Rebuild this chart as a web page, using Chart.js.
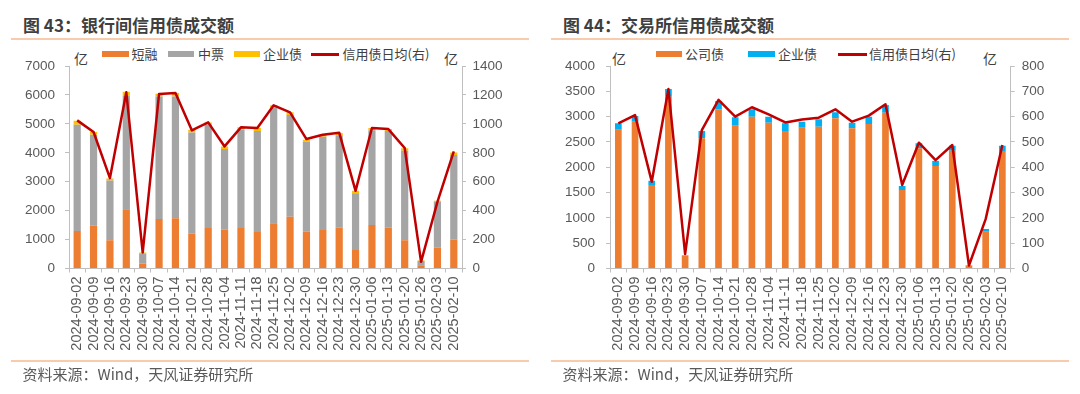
<!DOCTYPE html>
<html lang="zh-CN">
<head>
<meta charset="utf-8">
<title>信用债成交额</title>
<script src="https://cdn.jsdelivr.net/npm/chart.js@4.4.1/dist/chart.umd.min.js"></script>
<style>
  body { margin: 0; width: 1080px; height: 394px; background: #fff; position: relative; overflow: hidden;
         font-family: 'Noto Sans CJK SC', 'Liberation Sans', sans-serif; color: #404040; }
  .abs { position: absolute; white-space: nowrap; }
  .title { font-size: 17px; font-weight: bold; color: #3f3f3f; line-height: 20px; top: 15px; }
  .rule { height: 2px; background: #F8CBAD; }
  .src { font-size: 15px; color: #595959; line-height: 18px; top: 365px; }
  .lg { font-size: 13px; line-height: 16px; top: 46px; color: #404040; }
  .box { height: 6px; top: 51px; }
  .ln { height: 3px; top: 52.5px; background: #C00000; }
  .unit { font-size: 14px; line-height: 18px; top: 48.5px; color: #404040; }
  canvas { position: absolute; top: 40px; }
</style>
</head>
<body>
<!-- 图43 -->
<div class="abs title" style="left:23px">图 43：银行间信用债成交额</div>
<div class="abs rule" style="left:11px;width:518px;top:38px"></div>
<div class="abs box" style="left:102px;width:27px;background:#ED7D31"></div>
<div class="abs lg" style="left:131.5px">短融</div>
<div class="abs box" style="left:168px;width:26px;background:#A5A5A5"></div>
<div class="abs lg" style="left:198px">中票</div>
<div class="abs box" style="left:233.5px;width:26px;background:#FFC000"></div>
<div class="abs lg" style="left:263px">企业债</div>
<div class="abs ln" style="left:310.5px;width:28.5px"></div>
<div class="abs lg" style="left:342.5px">信用债日均(右)</div>
<div class="abs unit" style="left:74px">亿</div>
<div class="abs unit" style="left:444px">亿</div>
<canvas id="interbankChart" width="540" height="322" style="left:0px"></canvas>
<div class="abs rule" style="left:11px;width:518px;top:360px"></div>
<div class="abs src" style="left:22.5px">资料来源：Wind，天风证券研究所</div>

<!-- 图44 -->
<div class="abs title" style="left:563px">图 44：交易所信用债成交额</div>
<div class="abs rule" style="left:551px;width:518px;top:38px"></div>
<div class="abs box" style="left:656px;width:26px;background:#ED7D31"></div>
<div class="abs lg" style="left:685px">公司债</div>
<div class="abs box" style="left:748px;width:27px;background:#00B0F0"></div>
<div class="abs lg" style="left:778px">企业债</div>
<div class="abs ln" style="left:838px;width:29px"></div>
<div class="abs lg" style="left:869px">信用债日均(右)</div>
<div class="abs unit" style="left:612px">亿</div>
<div class="abs unit" style="left:983px">亿</div>
<canvas id="exchangeChart" width="540" height="322" style="left:540px"></canvas>
<div class="abs rule" style="left:551px;width:518px;top:360px"></div>
<div class="abs src" style="left:562.5px">资料来源：Wind，天风证券研究所</div>

<script>
// 周度日期
const dates = ['2024-09-02', '2024-09-09', '2024-09-16', '2024-09-23', '2024-09-30', '2024-10-07',
  '2024-10-14', '2024-10-21', '2024-10-28', '2024-11-04', '2024-11-11', '2024-11-18',
  '2024-11-25', '2024-12-02', '2024-12-09', '2024-12-16', '2024-12-23', '2024-12-30',
  '2025-01-06', '2025-01-13', '2025-01-20', '2025-01-26', '2025-02-03', '2025-02-10'];

// 图43 银行间（亿元）
const ibShortBill = [1300, 1480, 980, 2050, 170, 1710, 1740, 1210, 1400, 1340, 1400, 1265,
  1560, 1790, 1270, 1330, 1410, 640, 1500, 1410, 980, 115, 715, 1000];
const ibMtn = [3670, 3140, 2060, 3930, 350, 4240, 4210, 3490, 3590, 2790, 3400, 3490,
  3990, 3520, 3110, 3225, 3200, 1960, 3280, 3340, 3090, 140, 1590, 2920];
const ibEnterprise = [140, 100, 70, 130, 30, 90, 120, 100, 60, 90, 80, 100,
  90, 90, 70, 65, 70, 90, 80, 70, 90, 20, 35, 90];
const ibDailyAvg = [1024, 944, 625, 1218, 110, 1207, 1214, 955, 1010, 844, 976, 971,
  1128, 1080, 895, 925, 939, 537, 971, 964, 833, 46, 461, 809];

// 图44 交易所（亿元）
const exCorporate = [2740, 2900, 1647, 3393, 250, 2571, 3144, 2820, 2998, 2880, 2716, 2781,
  2800, 2966, 2768, 2854, 3077, 1549, 2374, 2024, 2326, 53, 725, 2321];
const exEnterprise = [130, 112, 86, 152, 14, 145, 164, 166, 146, 118, 152, 119,
  147, 119, 112, 144, 152, 79, 99, 99, 99, 13, 53, 104];
const exDailyAvg = [573, 606, 343, 709, 57, 547, 666, 600, 637, 609, 577, 589,
  596, 629, 580, 604, 649, 330, 497, 428, 488, 12, 195, 488];

// 坐标轴范围
const ibLeftAxis = { max: 7000, step: 1000 };
const ibRightAxis = { max: 1400, step: 200 };
const exLeftAxis = { max: 4000, step: 500 };
const exRightAxis = { max: 800, step: 100 };

const AXIS_COLOR = '#BFBFBF';
const TICK_COLOR = '#595959';
const TICK_FONT = { family: "'Liberation Sans', Arial, sans-serif", size: 13.5 };

function yAxis(range, position, width, pad) {
  return {
    type: 'linear',
    position: position,
    min: 0,
    max: range.max,
    ticks: { stepSize: range.step, padding: pad, color: TICK_COLOR, font: TICK_FONT,
             callback: function(v) { return String(v); } },  // 不要千分位
    grid: { drawOnChartArea: false, drawTicks: true, tickLength: 4, tickColor: AXIS_COLOR },
    border: { display: true, color: AXIS_COLOR },
    afterFit: function(scale) { scale.width = width; }
  };
}

function xAxis() {
  return {
    stacked: true,
    ticks: { minRotation: 90, maxRotation: 90, autoSkip: false, padding: 4, color: TICK_COLOR,
             font: { family: TICK_FONT.family, size: 14.5 } },
    grid: { offset: true, drawOnChartArea: false, tickLength: 4, tickColor: AXIS_COLOR },
    border: { display: true, color: AXIS_COLOR },
    afterFit: function(scale) { scale.height = 93.5; }
  };
}

function barSet(label, data, color, pct) {
  return { label: label, data: data, backgroundColor: color, borderWidth: 0,
           barPercentage: pct, categoryPercentage: 1.0, order: 1, yAxisID: 'y' };
}

function lineSet(data) {
  return { type: 'line', label: '信用债日均(右)', data: data, yAxisID: 'y1', order: 0,
           borderColor: '#C00000', backgroundColor: '#C00000', borderWidth: 2.5,
           borderJoinStyle: 'round', pointRadius: 0, tension: 0, fill: false };
}

function makeChart(id, datasets, leftRange, rightRange, leftW, rightW, leftPad, rightPad) {
  const ctx = document.getElementById(id).getContext('2d');
  return new Chart(ctx, {
    type: 'bar',
    data: { labels: dates, datasets: datasets },
    options: {
      responsive: false,
      animation: false,
      layout: { padding: { top: 26, left: 0, right: 0, bottom: 0 } },
      plugins: { legend: { display: false }, tooltip: { enabled: false } },
      scales: {
        x: xAxis(),
        y: Object.assign(yAxis(leftRange, 'left', leftW, leftPad), { stacked: true }),
        y1: yAxis(rightRange, 'right', rightW, rightPad)
      }
    }
  });
}

makeChart('interbankChart', [
  barSet('短融', ibShortBill, '#ED7D31', 0.44),
  barSet('中票', ibMtn, '#A5A5A5', 0.44),
  barSet('企业债', ibEnterprise, '#FFC000', 0.44),
  lineSet(ibDailyAvg)
], ibLeftAxis, ibRightAxis, 69, 78, 10, 6.5);

makeChart('exchangeChart', [
  barSet('公司债', exCorporate, '#ED7D31', 0.4),
  barSet('企业债', exEnterprise, '#00B0F0', 0.4),
  lineSet(exDailyAvg)
], exLeftAxis, exRightAxis, 70, 69.3, 11, 7);
</script>
</body>
</html>
